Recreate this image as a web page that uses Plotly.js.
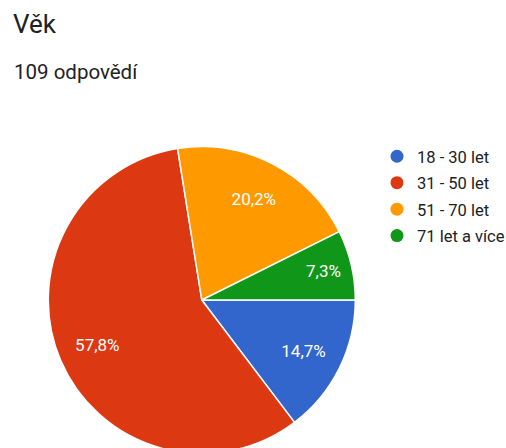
<!DOCTYPE html>
<html><head><meta charset="utf-8">
<script src="https://cdn.plot.ly/plotly-3.0.1.min.js"></script>
<style>html,body{margin:0;padding:0;overflow:hidden;background:#fff}#chart{width:506px;height:454px}</style>
</head><body><div id="chart"></div>
<script>
const chartTitle = 'Věk';
const subtitle = '109 odpovědí';
const categories = ['18 - 30 let', '31 - 50 let', '51 - 70 let', '71 let a více'];
const counts = [16, 63, 22, 8];
const colors = ['#3366cc', '#dc3912', '#ff9900', '#109618'];

const W = 506, H = 454;
const FONT = 'Roboto, Arial, sans-serif';
const cx = 201.8, cy = 300, R = 153.5;
const pieDomain = {x: [(cx - R) / W, (cx + R) / W], y: [1 - (cy + R) / H, 1 - (cy - R) / H]};

// filled slices
const pie = {
  type: 'pie', labels: categories, values: counts, sort: false,
  direction: 'clockwise', rotation: 90,
  marker: {colors: colors, line: {color: '#ffffff', width: 1.5}},
  textinfo: 'none',
  hoverinfo: 'label+value+percent', showlegend: false,
  domain: pieDomain
};
// same slices, transparent, only carrying the percent labels in the outer ring
const pieLabels = {
  type: 'pie', labels: categories, values: counts, sort: false,
  direction: 'clockwise', rotation: 90, hole: 0.48,
  marker: {colors: categories.map(() => 'rgba(0,0,0,0)'), line: {width: 0}},
  texttemplate: '%{percent:.1%}', textposition: 'inside',
  insidetextorientation: 'horizontal',
  textfont: {family: FONT, size: 17, color: '#ffffff'},
  hoverinfo: 'skip', showlegend: false,
  domain: pieDomain
};

const legendTraces = categories.map((c, i) => ({
  type: 'scatter', mode: 'markers', x: [null], y: [null], name: c,
  legendgroup: 'g' + i,
  marker: {color: colors[i], size: 13, symbol: 'circle'},
  hoverinfo: 'skip', showlegend: true
}));

const layout = {
  width: W, height: H,
  margin: {l: 0, r: 0, t: 0, b: 0, pad: 0, autoexpand: false},
  paper_bgcolor: '#ffffff', plot_bgcolor: '#ffffff',
  separators: ', ',
  font: {family: FONT, color: '#202124'},
  title: {text: chartTitle, x: 13 / W, xanchor: 'left', xref: 'container',
          y: 1 - 23.5 / H, yanchor: 'middle', yref: 'container',
          font: {family: FONT, size: 26, color: '#202124'}},
  annotations: [{text: subtitle, xref: 'paper', yref: 'paper', x: 12 / W, y: 1 - 72 / H,
                 xanchor: 'left', yanchor: 'middle', showarrow: false,
                 font: {family: FONT, size: 20.5, color: '#202124'}}],
  xaxis: {visible: false}, yaxis: {visible: false},
  showlegend: true,
  legend: {x: 377 / W, y: 1 - 139 / H, xanchor: 'left', yanchor: 'top',
           xref: 'container', yref: 'container',
           bgcolor: 'rgba(0,0,0,0)', borderwidth: 0, tracegroupgap: 2,
           font: {family: FONT, size: 16.5, color: '#202124'}, traceorder: 'grouped'}
};

Plotly.newPlot('chart', [pie, pieLabels].concat(legendTraces), layout, {displayModeBar: false, staticPlot: true});
</script></body></html>
